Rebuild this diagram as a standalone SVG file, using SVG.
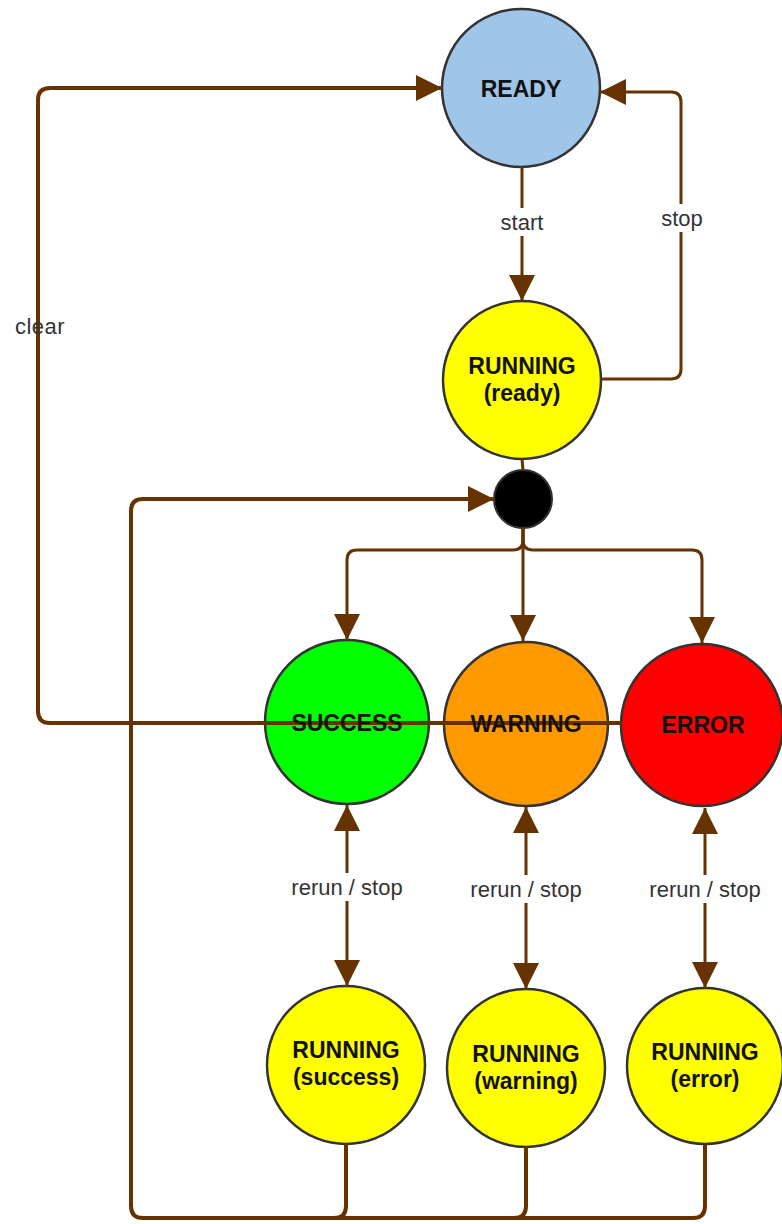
<svg xmlns="http://www.w3.org/2000/svg" width="782" height="1224" viewBox="0 0 782 1224">
<style>
.node{stroke:#333333;stroke-width:2.5}
.nt{font-family:"Liberation Sans",Arial,sans-serif;font-size:23px;font-weight:bold;fill:#111111;text-anchor:middle}
.edge{fill:none;stroke:#663300;stroke-width:3;stroke-linejoin:round}
.thick{stroke-width:4}
.lbl{font-family:"Liberation Sans",Arial,sans-serif;font-size:22px;fill:#333333;text-anchor:middle}
.lblbg{fill:#ffffff}
</style>
<defs>
<marker id="arr" markerUnits="userSpaceOnUse" markerWidth="26" markerHeight="26" refX="26" refY="13" orient="auto-start-reverse" viewBox="0 0 26 26">
<path d="M0,0 L26,13 L0,26 Z" fill="#663300"/>
</marker>
</defs>
<rect width="782" height="1224" fill="#ffffff"/>
<g id="nodes-shapes">
<g id="ready"><circle class="node" cx="521" cy="88" r="79" fill="#9fc5e8"/></g>
<g id="running-ready"><circle class="node" cx="522" cy="380" r="79" fill="#ffff00"/></g>
<g id="junction"><circle cx="523" cy="499" r="29" fill="#000000" stroke="#333333" stroke-width="2"/></g>
<g id="success"><circle class="node" cx="347" cy="722" r="82" fill="#00ff00"/></g>
<g id="warning"><circle class="node" cx="526" cy="724" r="82" fill="#ff9900"/></g>
<g id="error"><circle class="node" cx="702" cy="725" r="81" fill="#ff0000"/></g>
<g id="running-success"><circle class="node" cx="346" cy="1065" r="79" fill="#ffff00"/></g>
<g id="running-warning"><circle class="node" cx="526" cy="1068" r="79" fill="#ffff00"/></g>
<g id="running-error"><circle class="node" cx="705" cy="1066" r="78" fill="#ffff00"/></g>
</g>
<g id="connectors">
<path class="edge" d="M522,167 L522,301" marker-end="url(#arr)"/>
<path class="edge" d="M601,379 L671,379 Q681,379 681,369 L681,102 Q681,92 671,92 L600,92" marker-end="url(#arr)"/>
<path class="edge thick" d="M621,723 L50,723 Q38,723 38,711 L38,100 Q38,88 50,88 L442,88" marker-end="url(#arr)"/>
<path class="edge" d="M522,459 L523,470"/>
<path class="edge" d="M523,528 L523,641" marker-end="url(#arr)"/>
<path class="edge" d="M523,528 L523,540 Q523,550 513,550 L357,550 Q347,550 347,560 L347,640" marker-end="url(#arr)"/>
<path class="edge" d="M523,528 L523,540 Q523,550 533,550 L692,550 Q702,550 702,560 L702,643" marker-end="url(#arr)"/>
<path class="edge" d="M347,805 L347,986" marker-start="url(#arr)" marker-end="url(#arr)"/>
<path class="edge" d="M526,807 L526,989" marker-start="url(#arr)" marker-end="url(#arr)"/>
<path class="edge" d="M705,808 L705,988" marker-start="url(#arr)" marker-end="url(#arr)"/>
<path class="edge thick" d="M346,1144 L346,1206 Q346,1218 334,1218 L143,1218 Q131,1218 131,1206 L131,511 Q131,499 143,499 L494,499" marker-end="url(#arr)"/>
<path class="edge thick" d="M526,1147 L526,1206 Q526,1218 514,1218 L143,1218"/>
<path class="edge thick" d="M705,1145 L705,1206 Q705,1218 693,1218 L143,1218"/>
<rect class="lblbg" x="496" y="208" width="52" height="28"/>
<text class="lbl" x="522" y="230">start</text>
<rect class="lblbg" x="659" y="204" width="46" height="28"/>
<text class="lbl" x="682" y="226">stop</text>
<text class="lbl" x="40" y="334" letter-spacing="0.5">clear</text>
<rect class="lblbg" x="287" y="873" width="120" height="28"/>
<text class="lbl" x="347" y="895">rerun / stop</text>
<rect class="lblbg" x="466" y="875" width="120" height="28"/>
<text class="lbl" x="526" y="897">rerun / stop</text>
<rect class="lblbg" x="645" y="875" width="120" height="28"/>
<text class="lbl" x="705" y="897">rerun / stop</text>
</g>
<g id="node-labels">
<text class="nt" x="521" y="97">READY</text>
<text class="nt" x="522" y="374">RUNNING</text>
<text class="nt" x="522" y="401">(ready)</text>
<text class="nt" x="347" y="731">SUCCESS</text>
<text class="nt" x="526" y="732">WARNING</text>
<text class="nt" x="703" y="733">ERROR</text>
<text class="nt" x="346" y="1058">RUNNING</text>
<text class="nt" x="346" y="1085">(success)</text>
<text class="nt" x="526" y="1062">RUNNING</text>
<text class="nt" x="526" y="1089">(warning)</text>
<text class="nt" x="705" y="1060">RUNNING</text>
<text class="nt" x="705" y="1087">(error)</text>
</g>
</svg>
